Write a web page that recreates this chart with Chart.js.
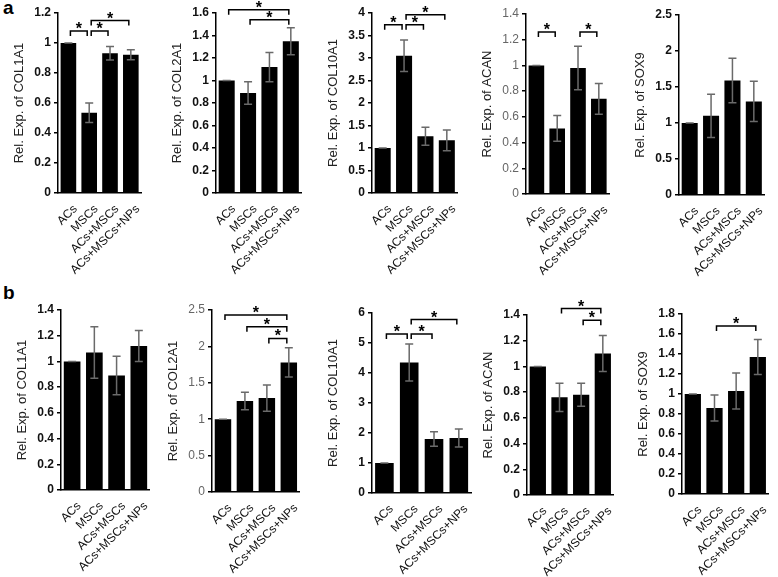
<!DOCTYPE html>
<html><head><meta charset="utf-8">
<script src="https://cdn.jsdelivr.net/npm/chart.js@4"></script>
<style>
body{margin:0;background:#fff;width:778px;height:577px;position:relative;overflow:hidden;font-family:"Liberation Sans",Arial,sans-serif}
canvas{position:absolute}
.lab{position:absolute;font-weight:bold;font-size:19px;color:#000}
</style></head><body>
<div class="lab" style="left:3px;top:-3px">a</div>
<div class="lab" style="left:3px;top:282px">b</div>
<script>
// groups and genes
var groups = ['ACs', 'MSCs', 'ACs+MSCs', 'ACs+MSCs+NPs'];
var genes = ['COL1A1', 'COL2A1', 'COL10A1', 'ACAN', 'SOX9'];

// row a
var meanA = [[1, 0.535, 0.932, 0.922], [1, 0.89, 1.12, 1.35], [1, 3.05, 1.26, 1.17], [1, 0.51, 0.98, 0.74], [1, 1.1, 1.59, 1.3]];
var errA = [[0, 0.065, 0.045, 0.033], [0, 0.1, 0.13, 0.12], [0, 0.35, 0.2, 0.23], [0, 0.1, 0.17, 0.12], [0, 0.3, 0.31, 0.28]];
var yMaxA = [1.2, 1.6, 4, 1.4, 2.5];
var yStepA = [0.2, 0.2, 0.5, 0.2, 0.5];
// significance brackets: [from, to, height]
var sigA = [[[0, 1, 1.08], [1, 2, 1.08], [1, 3, 1.15]],
            [[0, 3, 1.63], [1, 3, 1.54]],
            [[0, 1, 3.74], [1, 2, 3.74], [1, 3, 3.96]],
            [[0, 1, 1.26], [2, 3, 1.26]],
            []];

// row b
var meanB = [[1, 1.07, 0.89, 1.12], [1, 1.25, 1.29, 1.78], [1, 4.35, 1.8, 1.83], [1, 0.76, 0.78, 1.1], [1, 0.86, 1.03, 1.37]];
var errB = [[0, 0.2, 0.15, 0.12], [0, 0.12, 0.18, 0.2], [0, 0.62, 0.24, 0.3], [0, 0.11, 0.09, 0.14], [0, 0.13, 0.18, 0.175]];
var yMaxB = [1.4, 2.5, 6, 1.4, 1.8];
var yStepB = [0.2, 0.5, 1, 0.2, 0.2];
var sigB = [[],
            [[0, 3, 2.43], [1, 3, 2.27], [2, 3, 2.11]],
            [[0, 1, 5.3], [1, 2, 5.3], [1, 3, 5.78]],
            [[1, 3, 1.45], [2, 3, 1.36]],
            [[1, 3, 1.68]]];

// panel layout: axis x, top y, zero y, right x
var boxA = [[58, 13, 193, 150], [216, 13, 193, 310], [372, 13, 193, 466], [526, 14, 194, 618], [679, 15, 195, 773]];
var boxB = [[61, 310, 490, 158], [212, 310, 492, 308], [372, 313, 493, 478], [527, 315, 495, 622], [682, 314, 494, 777]];
var tickGrayA = [false, false, false, true, false];
var tickGrayB = [false, true, false, false, false];

var FONT = "'Liberation Sans', Arial, sans-serif";
var YW = 46, PT = 24, XH = 90;

var errorBars = {
    id: 'errorBars',
    afterDatasetsDraw: function(chart, args, opts) {
        var ctx = chart.ctx, meta = chart.getDatasetMeta(0), y = chart.scales.y;
        var vals = chart.data.datasets[0].data;
        ctx.save();
        ctx.strokeStyle = '#6a6a6a';
        ctx.lineWidth = 1.5;
        opts.err.forEach(function(e, i) {
            var x = meta.data[i].x;
            var y1 = y.getPixelForValue(vals[i] + e), y2 = y.getPixelForValue(vals[i] - e);
            ctx.beginPath();
            ctx.moveTo(x, y1); ctx.lineTo(x, y2);
            ctx.moveTo(x - 4, y1); ctx.lineTo(x + 4, y1);
            ctx.moveTo(x - 4, y2); ctx.lineTo(x + 4, y2);
            ctx.stroke();
        });
        ctx.restore();
    }
};

var sigBrackets = {
    id: 'sigBrackets',
    afterDatasetsDraw: function(chart, args, opts) {
        var ctx = chart.ctx, meta = chart.getDatasetMeta(0), y = chart.scales.y;
        ctx.save();
        ctx.strokeStyle = '#000';
        ctx.fillStyle = '#000';
        ctx.lineWidth = 1.5;
        ctx.font = 'bold 16px ' + FONT;
        ctx.textAlign = 'center';
        ctx.textBaseline = 'alphabetic';
        opts.marks.forEach(function(m) {
            var x1 = meta.data[m[0]].x + 2, x2 = meta.data[m[1]].x - 2;
            var yy = y.getPixelForValue(m[2]);
            ctx.beginPath();
            ctx.moveTo(x1, yy + 5); ctx.lineTo(x1, yy); ctx.lineTo(x2, yy); ctx.lineTo(x2, yy + 5);
            ctx.stroke();
            ctx.fillText('*', (x1 + x2) / 2, yy + 3);
        });
        ctx.restore();
    }
};

function makePanel(box, gene, vals, err, ymax, step, marks, gray) {
    var c = document.createElement('canvas');
    var w = YW + (box[3] - box[0]), h = PT + (box[2] - box[1]) + XH;
    c.width = w; c.height = h;
    c.style.left = (box[0] - YW) + 'px';
    c.style.top = (box[1] - PT) + 'px';
    document.body.appendChild(c);
    new Chart(c.getContext('2d'), {
        type: 'bar',
        data: {
            labels: groups,
            datasets: [{ data: vals, backgroundColor: '#000', barPercentage: 0.75, categoryPercentage: 1 }]
        },
        plugins: [errorBars, sigBrackets],
        options: {
            responsive: false,
            animation: false,
            devicePixelRatio: 1,
            layout: { padding: { top: PT, left: 0, right: 0, bottom: 0 } },
            plugins: {
                legend: { display: false },
                tooltip: { enabled: false },
                errorBars: { err: err },
                sigBrackets: { marks: marks }
            },
            scales: {
                x: {
                    offset: true,
                    grid: { display: false, drawTicks: false },
                    border: { color: '#000', width: 1.5 },
                    ticks: { minRotation: 45, maxRotation: 45, autoSkip: false, padding: 9, labelOffset: 7,
                             color: '#111', font: { size: 12, family: FONT } },
                    afterFit: function(s) { s.height = XH; }
                },
                y: {
                    min: 0, max: ymax,
                    ticks: { stepSize: step, padding: 3,
                             color: gray ? '#666' : '#111',
                             font: { size: 12, weight: gray ? 'normal' : 'bold', family: FONT },
                             callback: function(v) { return String(Math.round(v * 100) / 100); } },
                    grid: { drawOnChartArea: false, color: '#000', lineWidth: 1.5, tickLength: 4 },
                    border: { color: '#000', width: 1.5 },
                    title: { display: true, text: 'Rel. Exp. of ' + gene, color: '#222',
                             font: { size: 13, family: FONT }, padding: { top: 0, bottom: 2 } },
                    afterFit: function(s) { s.width = YW; }
                }
            }
        }
    });
}

for (var i = 0; i < 5; i++) {
    makePanel(boxA[i], genes[i], meanA[i], errA[i], yMaxA[i], yStepA[i], sigA[i], tickGrayA[i]);
    makePanel(boxB[i], genes[i], meanB[i], errB[i], yMaxB[i], yStepB[i], sigB[i], tickGrayB[i]);
}
</script>
</body></html>
